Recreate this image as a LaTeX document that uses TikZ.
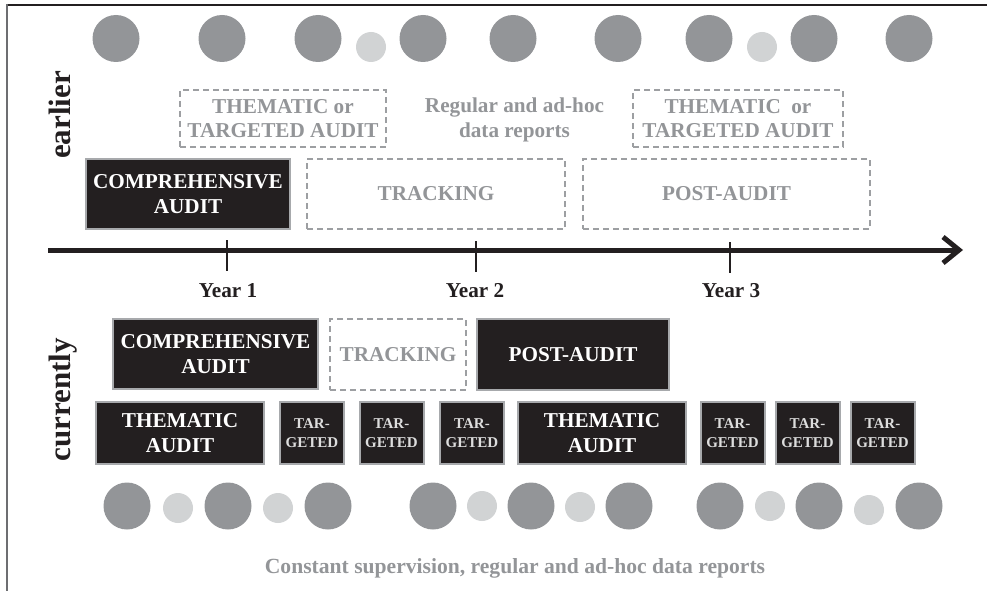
\documentclass[tikz,border=0pt]{standalone}
\usepackage{fontspec}
\setmainfont{Liberation Serif}
\usetikzlibrary{arrows.meta}
\definecolor{boxblack}{HTML}{231F20}
\definecolor{bordergray}{HTML}{A7A9AC}
\definecolor{dashgray}{HTML}{9D9FA2}
\definecolor{textgray}{HTML}{939598}
\definecolor{biggray}{HTML}{939598}
\definecolor{smallgray}{HTML}{D1D3D4}
\definecolor{targtext}{HTML}{DDDDDD}
\definecolor{framegray}{HTML}{6D6E71}
\begin{document}
\begin{tikzpicture}[x=1pt,y=-1pt,
  txt/.style={font=\fontsize{21.2}{24.5}\selectfont\bfseries},
  blackbox/.style={draw=bordergray, line width=2pt, fill=boxblack, text=white, align=center, inner sep=0pt, txt},
  dashbox/.style={draw=dashgray, line width=1.5pt, dash pattern=on 6pt off 4pt, text=textgray, align=center, inner sep=0pt, txt},
  targbox/.style={blackbox, text=targtext, font=\fontsize{15}{19}\selectfont\bfseries, minimum width=64pt, minimum height=62pt},
  thembox/.style={blackbox, minimum width=168pt, minimum height=62pt},
  bigdot/.style={fill=biggray},
  smalldot/.style={fill=smallgray},
  yearlab/.style={txt, text=boxblack, anchor=base},
  sidelab/.style={font=\fontsize{31}{36}\selectfont\bfseries, text=boxblack, rotate=90, anchor=base},
  tickline/.style={draw=boxblack, line width=2.5pt},
  timeline/.style={draw=boxblack, line width=5pt, -{Straight Barb[length=16pt,width=26pt]}}
]
\useasboundingbox (0,0) rectangle (987,591);
% frame
\draw[line width=2pt, draw=boxblack] (6,5) -- (987,5);
\draw[line width=2pt, draw=framegray] (6.5,4) -- (6.5,591);

% top dots
\foreach \x in {116,222,318,423,513,618,709,814,909}
  \fill[bigdot] (\x,38.5) circle (23.5pt);
\foreach \x in {371,762}
  \fill[smalldot] (\x,47) circle (15pt);

% side labels
\node[sidelab] (earlier) at (70,115) {earlier};
\node[sidelab] (currently) at (70,400) {currently};

% earlier row
\node[dashbox, minimum width=206pt, minimum height=57pt] (tt1) at (283,118.5) {THEMATIC or\\TARGETED AUDIT};
\node[dashbox, minimum width=210pt, minimum height=57pt] (tt2) at (738,118.5) {THEMATIC\ \ or\\TARGETED AUDIT};
\node[txt, text=textgray, align=center, inner sep=0pt] (reports) at (514.5,120) {Regular and ad-hoc\\data reports};
\node[blackbox, minimum width=204pt, minimum height=70pt] (ca1) at (188,194) {COMPREHENSIVE\\AUDIT};
\node[dashbox, minimum width=258pt, minimum height=70pt] (track1) at (436,194) {TRACKING};
\node[dashbox, minimum width=287pt, minimum height=70pt] (post1) at (726.5,194) {POST-AUDIT};

% timeline
\coordinate (tl0) at (48,250);
\coordinate (tl1) at (963,250);
\draw[timeline] (tl0) -- (tl1);
\coordinate (y1a) at (227,240); \coordinate (y1b) at (227,271);
\coordinate (y2a) at (476,241); \coordinate (y2b) at (476,272);
\coordinate (y3a) at (730,242); \coordinate (y3b) at (730,273);
\draw[tickline] (y1a) -- (y1b);
\draw[tickline] (y2a) -- (y2b);
\draw[tickline] (y3a) -- (y3b);
\node[yearlab] (year1) at (228,297) {Year 1};
\node[yearlab] (year2) at (475,297) {Year 2};
\node[yearlab] (year3) at (731,297) {Year 3};

% currently rows
\node[blackbox, minimum width=205pt, minimum height=70pt] (ca2) at (215.5,354) {COMPREHENSIVE\\AUDIT};
\node[dashbox, minimum width=136pt, minimum height=71pt] (track2) at (398,354.5) {TRACKING};
\node[blackbox, minimum width=192pt, minimum height=71pt] (post2) at (573,354.5) {POST-AUDIT};

\node[thembox] (th1) at (180,433) {THEMATIC\\AUDIT};
\node[targbox] (tg1) at (312,433) {TAR-\\GETED};
\node[targbox] (tg2) at (391.5,433) {TAR-\\GETED};
\node[targbox] (tg3) at (472,433) {TAR-\\GETED};
\node[thembox] (th2) at (602,433) {THEMATIC\\AUDIT};
\node[targbox] (tg4) at (732.5,433) {TAR-\\GETED};
\node[targbox] (tg5) at (807.5,433) {TAR-\\GETED};
\node[targbox] (tg6) at (882.5,433) {TAR-\\GETED};

% bottom dots
\foreach \x in {127,228,328,433,531,629,720,819,919}
  \fill[bigdot] (\x,506) circle (23.5pt);
\foreach \x/\y in {178/508,278/508,482/506,580/507,770/506,869/510}
  \fill[smalldot] (\x,\y) circle (15pt);

\node[font=\fontsize{21.6}{24}\selectfont\bfseries, text=textgray, anchor=base] (constant) at (515,573) {Constant supervision, regular and ad-hoc data reports};
\end{tikzpicture}
\end{document}
